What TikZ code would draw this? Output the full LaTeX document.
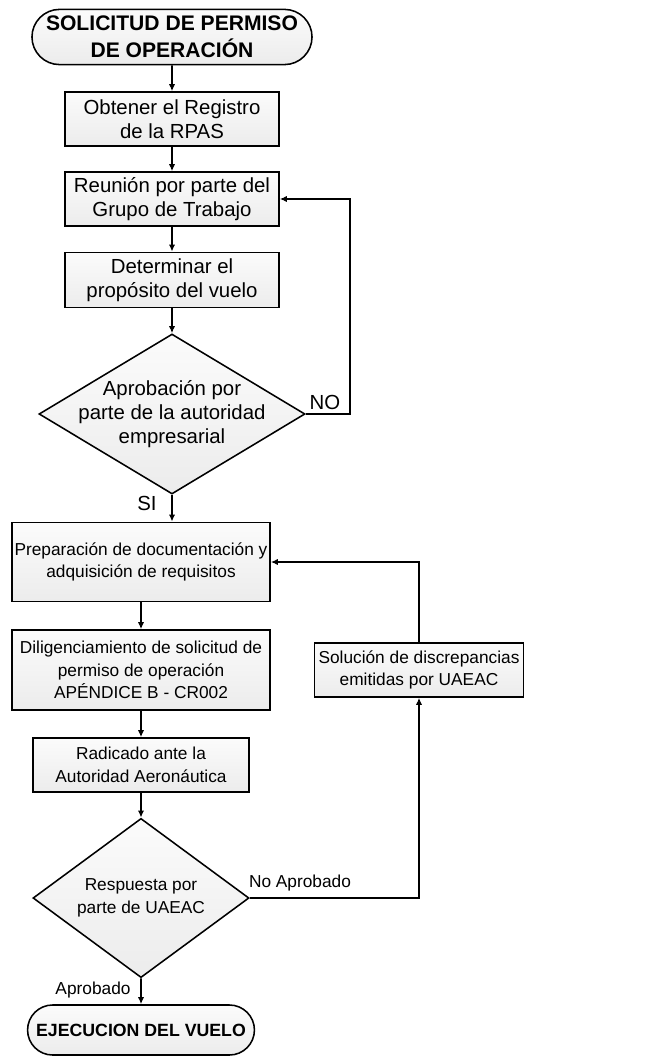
\documentclass[tikz,border=0pt]{standalone}
\usepackage{fontspec}
\setmainfont{Liberation Sans}
\usetikzlibrary{shapes.geometric,shapes.misc,arrows.meta}

\tikzset{
  box/.style={draw, line width=1.1pt,
              top color=gray!3, bottom color=gray!15,
              align=center, inner sep=0pt,
              font=\fontsize{14.5}{17}\selectfont},
  proc/.style={box, rectangle},
  decision/.style={box, diamond},
  term/.style={box, rounded rectangle,
               font=\bfseries\fontsize{15}{19}\selectfont},
  tag/.style={font=\fontsize{14.5}{17}\selectfont, align=center},
  small/.style={font=\fontsize{12.3}{16}\selectfont},
  smallbold/.style={font=\bfseries\fontsize{12.6}{16}\selectfont},
  flow/.style={line width=1.1pt, -{Latex[length=5pt,width=4.5pt]}}
}

\begin{document}
\begin{tikzpicture}[x=0.025cm, y=-0.025cm]
  \useasboundingbox (0,0) rectangle (644,1057);

  % main column
  \node[term,
        minimum width=7cm,
        minimum height=1.38cm]
    (ini) at (172,37) {SOLICITUD DE PERMISO\\DE OPERACIÓN};
  \node[proc,
        minimum width=5.35cm,
        minimum height=1.35cm]
    (obt) at (172,119) {Obtener el Registro\\de la RPAS};
  \node[proc,
        minimum width=5.35cm,
        minimum height=1.35cm]
    (reu) at (172,199) {Reunión por parte del\\Grupo de Trabajo};
  \node[proc,
        minimum width=5.35cm,
        minimum height=1.38cm]
    (det) at (172,280) {Determinar el\\propósito del vuelo};
  \node[decision,
        minimum width=6.65cm,
        minimum height=4cm,
        label={[tag]center:{Aprobación por\\parte de la autoridad\\empresarial}}]
    (aut) at (172,414) {};

  \node[proc, small,
        minimum width=6.45cm,
        minimum height=1.98cm]
    (prep) at (141,562) {Preparación de documentación y\\adquisición de requisitos};
  \node[proc, small,
        minimum width=6.45cm,
        minimum height=2cm]
    (dil) at (141,670) {Diligenciamiento de solicitud de\\permiso de operación\\APÉNDICE B - CR002};
  \node[proc, small,
        minimum width=5.4cm,
        minimum height=1.35cm]
    (rad) at (141,765) {Radicado ante la\\Autoridad Aeronáutica};
  \node[decision,
        minimum width=5.4cm,
        minimum height=3.98cm,
        label={[tag,small]center:{Respuesta por\\parte de UAEAC}}]
    (resp) at (141,898) {};
  \node[term, smallbold,
        minimum width=5.67cm,
        minimum height=1.25cm]
    (fin) at (141,1030) {EJECUCION DEL VUELO};

  % side box
  \node[proc, small,
        minimum width=5.22cm,
        minimum height=1.35cm]
    (sol) at (419,670) {Solución de discrepancias\\emitidas por UAEAC};

  % connectors
  \draw[flow] (ini) -- (obt);
  \draw[flow] (obt) -- (reu);
  \draw[flow] (reu) -- (det);
  \draw[flow] (det) -- (aut);
  \draw[flow] (aut.south) -- (aut.south |- prep.north);
  \draw[flow] (aut.east) -- ++(44,0) |- (reu.east);
  \draw[flow] (prep) -- (dil);
  \draw[flow] (dil) -- (rad);
  \draw[flow] (rad) -- (resp);
  \draw[flow] (resp) -- (fin);
  \draw[flow] (resp.east) -| (sol.south);
  \draw[flow] (sol.north) |- (prep.east);

  % branch labels
  \node[tag] (no) at (325,402) {NO};
  \node[tag] (si) at (147,503) {SI};
  \node[tag, small] (noap) at (300,883) {No Aprobado};
  \node[tag, small] (ap) at (93,990) {Aprobado};
\end{tikzpicture}
\end{document}
